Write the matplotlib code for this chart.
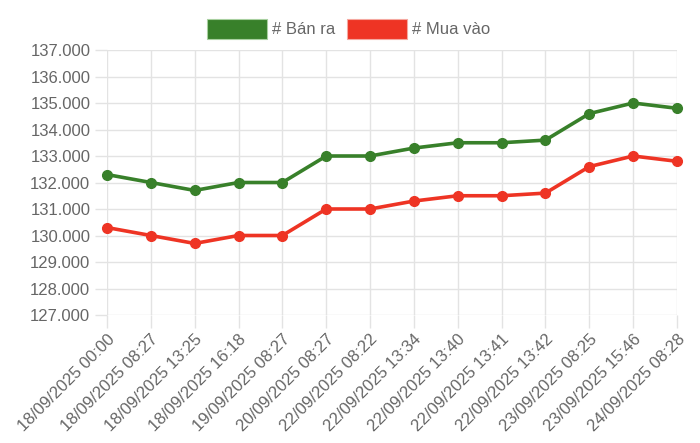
import matplotlib
matplotlib.use('Agg')
from matplotlib import pyplot as plt
from matplotlib.patches import Rectangle

labels = ['18/09/2025 00:00', '18/09/2025 08:27', '18/09/2025 13:25', '18/09/2025 16:18',
          '19/09/2025 08:27', '20/09/2025 08:27', '22/09/2025 08:22', '22/09/2025 13:34',
          '22/09/2025 13:40', '22/09/2025 13:41', '22/09/2025 13:42', '23/09/2025 08:25',
          '23/09/2025 15:46', '24/09/2025 08:28']
ban_ra = [132.3, 132.0, 131.7, 132.0, 132.0, 133.0, 133.0, 133.3, 133.5, 133.5, 133.6, 134.6, 135.0, 134.8]
mua_vao = [130.3, 130.0, 129.7, 130.0, 130.0, 131.0, 131.0, 131.3, 131.5, 131.5, 131.6, 132.6, 133.0, 132.8]
yticks = [127, 128, 129, 130, 131, 132, 133, 134, 135, 136, 137]

green = '#38802a'
red = '#ee3424'
grid = '#e3e3e3'
txt = '#666666'

plt.rcParams['font.family'] = ['Liberation Sans', 'DejaVu Sans']

fig = plt.figure(figsize=(7, 4.43), dpi=100)
ax = fig.add_axes([107/700, 1 - 315/443, 570/700, 265/443])

x = list(range(len(labels)))
ax.plot(x, ban_ra, color=green, lw=2.6, marker='o', ms=7, zorder=3, clip_on=False)
ax.plot(x, mua_vao, color=red, lw=2.6, marker='o', ms=7, zorder=3, clip_on=False)

ax.set_xlim(0, len(labels) - 1)
ax.set_ylim(127, 137)
ax.set_yticks(yticks)
ax.set_yticklabels([f'{v}.000' for v in yticks])
ax.set_xticks(x)
ax.set_xticklabels(labels, rotation=45, ha='right', rotation_mode='anchor')

ax.grid(True, color=grid, lw=1)
ax.set_axisbelow(True)
for s in ax.spines.values():
    s.set_visible(False)
ax.tick_params(axis='both', colors=grid, labelcolor=txt, labelsize=12, length=9, width=1, pad=3)

# legend
fig.patches.append(Rectangle((207/700, 1 - 39/443), 60/700, 20/443, transform=fig.transFigure,
                             facecolor=green, edgecolor='#a8d0a0', lw=0.8))
fig.text(272/700, 1 - 29/443, '# Bán ra', color=txt, fontsize=12, va='center')
fig.patches.append(Rectangle((347/700, 1 - 39/443), 60/700, 20/443, transform=fig.transFigure,
                             facecolor=red, edgecolor='#f5a8a0', lw=0.8))
fig.text(412/700, 1 - 29/443, '# Mua vào', color=txt, fontsize=12, va='center')

plt.savefig('out.png', dpi=100)
